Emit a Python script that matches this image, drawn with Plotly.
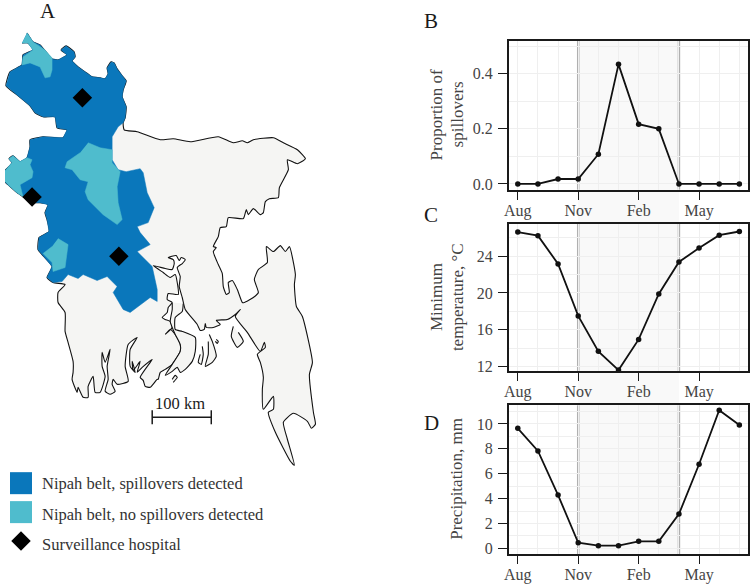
import plotly.graph_objects as go

FONT = "Liberation Serif"
BLUE = "#0a77bb"
CYAN = "#4fbccd"
LAND = "#f5f5f3"
INK = "#1a1a1a"
TICK_INK = "#444444"
GRID = "#efefef"
SHADE = "#f9f9f9"
SEASON_LINE = "#b0b0b0"

# monthly series, Aug to Jul
MONTHS = list(range(12))
TICK_MONTHS = [0, 3, 6, 9]
TICK_NAMES = ["Aug", "Nov", "Feb", "May"]
SEASON_START, SEASON_END = 3, 8
SPILLOVERS = [0, 0, 0.018, 0.018, 0.108, 0.434, 0.217, 0.2, 0, 0, 0, 0]
MIN_TEMP = [26.64, 26.25, 23.17, 17.5, 13.64, 11.6, 14.94, 19.9, 23.38, 24.9, 26.3, 26.7]
PRECIP = [9.65, 7.83, 4.28, 0.45, 0.21, 0.21, 0.56, 0.56, 2.75, 6.76, 11.1, 9.92]

# map outlines in page pixels
NORTH_EDGE = [(27, 33), (33, 42), (40, 45), (46, 52), (52, 59), (58, 60), (64, 57), (67, 55), (61, 50),
              (66, 46), (74, 52), (75, 57), (72, 61), (78, 67), (85, 72), (92, 77), (100, 78), (105, 79),
              (108, 74), (107, 68), (111, 62), (114, 63), (117, 69), (122, 76), (126, 81), (123, 90),
              (122, 97), (126, 107), (125, 118), (123, 123)]
WEST_EDGE = [(53, 283), (47, 278), (52, 267), (42, 255), (38, 250), (39, 238), (49, 232), (47, 220), (45, 213),
             (48, 205), (40, 203), (33, 203), (23, 197), (17, 193), (8, 185), (0, 177), (12, 163), (9, 159),
             (13, 156), (20, 162), (27, 158), (30, 147), (30, 140), (43, 137), (63, 138), (67, 130), (57, 128),
             (55, 117), (43, 117), (35, 113), (30, 106), (17, 95), (6, 86), (10, 72), (22, 65), (23, 55),
             (33, 50), (28, 43), (22, 43)]
BELT_INNER = [(118, 127), (112, 137), (112, 160), (118, 170), (126, 172), (140, 169), (143, 173), (147, 193),
              (154, 208), (148, 223), (137, 227), (140, 233), (150, 245), (137, 252), (147, 262), (152, 267),
              (157, 290), (157, 302), (150, 298), (138, 307), (130, 313), (123, 310), (113, 293), (117, 287),
              (107, 277), (97, 281), (83, 275), (78, 279), (68, 275), (62, 282)]
EAST_COAST = [(124, 130), (137, 132), (160, 140), (173, 139), (190, 142), (218, 137), (233, 143), (242, 141),
              (247, 143), (253, 140), (273, 138), (283, 143), (297, 150), (305, 159), (297, 164), (287, 160),
              (288, 170), (279, 188), (278, 198), (269, 199), (265, 202), (263, 213), (260, 215), (253, 209),
              (248, 215), (246, 210), (243, 219), (228, 218), (226, 227), (220, 228), (218, 237), (213, 247),
              (216, 248), (213, 252), (218, 265), (222, 274), (223, 287), (226, 295), (229, 293), (228, 283),
              (232, 281), (237, 290), (242, 303), (244, 303), (253, 298), (258, 293), (254, 280), (258, 270),
              (267, 263), (266, 247), (273, 252), (280, 246), (285, 252), (289, 247), (295, 275), (294, 285),
              (296, 307), (302, 317), (312, 363), (309, 375), (313, 413), (315, 425), (311, 429), (307, 422),
              (293, 414), (283, 423), (287, 440), (294, 466), (290, 462), (275, 433), (268, 413), (273, 410),
              (273, 397), (263, 410), (262, 390), (263, 378), (260, 363), (257, 355), (265, 348), (264, 343),
              (260, 352), (247, 333), (235, 317), (240, 310), (235, 315), (227, 320), (216, 321), (220, 325),
              (213, 328), (206, 328), (205, 324), (204, 330), (200, 331), (197, 325), (185, 310), (182, 298),
              (179, 287), (180, 277), (177, 268), (182, 264), (185, 260), (181, 258), (179, 261), (176, 256),
              (168, 258), (173, 260), (174, 264), (172, 270), (165, 269), (153, 266), (163, 273), (170, 278),
              (175, 275), (177, 283), (178, 295), (168, 294), (167, 300), (172, 303), (168, 308), (167, 313),
              (162, 318), (165, 320), (170, 322), (172, 328), (165, 335), (170, 330), (175, 335), (180, 345),
              (180, 352), (172, 365), (165, 370), (160, 373), (158, 380), (157, 380), (150, 388), (145, 387),
              (143, 381), (140, 378), (152, 360), (142, 368), (137, 373), (140, 362), (133, 371), (132, 362),
              (135, 373), (130, 367), (130, 350), (137, 338), (128, 345), (125, 367), (128, 382), (117, 385),
              (113, 380), (112, 385), (115, 392), (110, 395), (105, 392), (108, 380), (107, 367), (110, 350),
              (105, 363), (102, 353), (102, 367), (105, 377), (100, 393), (95, 393), (93, 377), (88, 387),
              (88, 398), (83, 398), (78, 388), (77, 393), (72, 380), (73, 373), (73, 362), (68, 343), (65, 332),
              (65, 313), (58, 303), (58, 293), (65, 285)]
ISLANDS = [
    [(183, 304), (182, 312), (175, 318), (175, 330), (182, 332), (195, 338), (195, 352), (192, 362), (185, 370),
     (180, 373), (177, 368), (172, 372), (165, 376), (172, 365), (180, 352), (180, 345), (175, 335), (172, 328),
     (170, 322), (172, 310), (172, 303)],
    [(172, 380), (175, 376), (177, 378), (173, 383)],
    [(209, 335), (212, 342), (216, 357), (212, 363), (205, 367), (208, 355), (208, 342)],
    [(216, 340), (218, 342), (217, 344), (215, 342)],
    [(202, 347), (203, 355), (201, 365), (198, 363), (200, 355)],
    [(233, 327), (231, 337), (237, 348), (243, 342), (238, 333)],
]
CYAN_PATCHES = [
    [(27, 33), (33, 42), (45, 50), (52, 58), (52, 70), (50, 77), (45, 78), (40, 67), (30, 63), (22, 65), (23, 57),
     (33, 50), (28, 43), (22, 43)],
    [(88, 143), (100, 148), (112, 150), (112, 163), (120, 172), (117, 187), (118, 203), (122, 220), (117, 225),
     (103, 215), (88, 200), (85, 192), (88, 182), (80, 180), (72, 170), (65, 168), (67, 162), (80, 153)],
    [(0, 177), (12, 163), (9, 159), (13, 156), (20, 162), (27, 158), (32, 160), (30, 165), (33, 172), (32, 178),
     (20, 185), (23, 197), (17, 193), (8, 185)],
    [(58, 239), (68, 245), (65, 268), (53, 272), (52, 263), (43, 254), (52, 247)],
]
HOSPITAL_X = [82.3, 32, 118.7]
HOSPITAL_Y = [98, 197.3, 256.7]
SCALE_X = [152, 211]
SCALE_Y = [418, 418]

LEGEND_LABELS = ["Nipah belt, spillovers detected", "Nipah belt, no spillovers detected", "Surveillance hospital"]
LEGEND_Y = [484, 515, 545]

# pixel boxes of the three line panels (left, right, top, bottom)
PANEL_LEFT, PANEL_RIGHT = 508, 749
PANELS = [
    dict(name="2", y=SPILLOVERS, top=41, bottom=190, rng=[-0.0207, 0.519], dtick=0.2, tick0=0, fmt=".1f", minor=0.1),
    dict(name="3", y=MIN_TEMP, top=224, bottom=372, rng=[11.46, 27.56], dtick=4, tick0=12, fmt="d", minor=2),
    dict(name="4", y=PRECIP, top=406, bottom=555, rng=[-0.46, 11.5], dtick=2, tick0=0, fmt="d", minor=1),
]
W, H = 750, 586
PAGE_H = 583  # height that lines the panels up with the map coordinates


def poly(points, fill, line=None, width=1.1):
    xs = [p[0] for p in points]
    ys = [p[1] for p in points]
    return go.Scatter(x=xs, y=ys, mode="lines", fill="toself", fillcolor=fill,
                      line=dict(color=line or fill, width=width if line else 0.5,
                                shape="spline" if line else "linear", smoothing=0.5),
                      hoverinfo="skip", xaxis="x", yaxis="y")


def text(x, y, s, size=15, color=INK, anchor="center", angle=0):
    return dict(x=x, y=y, xref="x", yref="y", text=s, showarrow=False, xanchor=anchor, yanchor="middle",
                textangle=angle, font=dict(family=FONT, size=size, color=color))


fig = go.Figure()
fig.add_trace(poly(NORTH_EDGE + EAST_COAST + WEST_EDGE, LAND, "#111111"))
for island in ISLANDS:
    fig.add_trace(poly(island, LAND, "#111111"))
fig.add_trace(poly(NORTH_EDGE + BELT_INNER + WEST_EDGE, BLUE))
for patch in CYAN_PATCHES:
    fig.add_trace(poly(patch, CYAN))
fig.add_trace(go.Scatter(x=HOSPITAL_X, y=HOSPITAL_Y, mode="markers", xaxis="x", yaxis="y",
                         marker=dict(symbol="diamond", size=15, color="black"), hoverinfo="skip"))
fig.add_trace(go.Scatter(x=SCALE_X, y=SCALE_Y, mode="lines+markers", xaxis="x", yaxis="y",
                         line=dict(color=INK, width=1.5),
                         marker=dict(symbol="line-ns", size=10, line=dict(color=INK, width=1.5)), hoverinfo="skip"))

# legend keys
fig.add_trace(go.Scatter(x=[21], y=[484], mode="markers", xaxis="x", yaxis="y", hoverinfo="skip",
                         marker=dict(symbol="square", size=22, color=BLUE)))
fig.add_trace(go.Scatter(x=[21], y=[513], mode="markers", xaxis="x", yaxis="y", hoverinfo="skip",
                         marker=dict(symbol="square", size=22, color=CYAN)))
fig.add_trace(go.Scatter(x=[21], y=[542], mode="markers", xaxis="x", yaxis="y", hoverinfo="skip",
                         marker=dict(symbol="diamond", size=15, color="black")))

layout = dict(
    width=W, height=H, showlegend=False, paper_bgcolor="white", plot_bgcolor="rgba(0,0,0,0)",
    margin=dict(l=0, r=0, t=0, b=0), hovermode=False,
    xaxis=dict(domain=[0, 1], range=[5, 748], visible=False, fixedrange=True),
    yaxis=dict(domain=[0, 1], range=[PAGE_H, 0], visible=False, fixedrange=True),
)

shapes = [dict(type="rect", xref="x2", x0=SEASON_START, x1=SEASON_END, yref="paper",
               y0=1 - 555 / PAGE_H, y1=1 - 41 / PAGE_H, fillcolor=SHADE, line_width=0, layer="below")]

for panel in PANELS:
    n = panel["name"]
    fig.add_trace(go.Scatter(x=MONTHS, y=panel["y"], mode="lines+markers", xaxis="x" + n, yaxis="y" + n,
                             line=dict(color="#111111", width=1.8), marker=dict(size=5.5, color="#111111"),
                             cliponaxis=False))
    layout["xaxis" + n] = dict(
        domain=[PANEL_LEFT / W, PANEL_RIGHT / W], range=[-0.44, 11.43], anchor="y" + n,
        tickmode="array", tickvals=TICK_MONTHS, ticktext=TICK_NAMES, ticks="outside", ticklen=8,
        tickwidth=1, tickcolor=INK, showline=True, mirror=True, linecolor=INK, linewidth=1.8,
        showgrid=True, gridcolor=GRID, gridwidth=1, zeroline=False, fixedrange=True, ticklabelstandoff=-3,
        minor=dict(tickmode="array", tickvals=MONTHS, showgrid=True, gridcolor=GRID, gridwidth=1, ticks=""),
        tickfont=dict(family=FONT, size=16, color=TICK_INK),
    )
    layout["yaxis" + n] = dict(
        domain=[1 - panel["bottom"] / PAGE_H, 1 - panel["top"] / PAGE_H], range=panel["rng"], anchor="x" + n,
        tick0=panel["tick0"], dtick=panel["dtick"], tickformat=panel["fmt"], ticks="outside", ticklen=9,
        tickwidth=1, tickcolor=INK, showline=True, mirror=True, linecolor=INK, linewidth=1.8,
        showgrid=True, gridcolor=GRID, gridwidth=1, zeroline=False, fixedrange=True, ticklabelstandoff=2,
        minor=dict(dtick=panel["minor"], showgrid=True, gridcolor=GRID, gridwidth=1, ticks=""),
        tickfont=dict(family=FONT, size=16, color=TICK_INK),
    )
    for month in (SEASON_START, SEASON_END):
        shapes.append(dict(type="line", xref="x" + n, x0=month, x1=month, yref="y" + n + " domain", y0=0, y1=1,
                           line=dict(color=SEASON_LINE, width=2.5), layer="below"))

annotations = [
    text(48, 11, "A", 21), text(430, 21, "B", 21), text(430, 215, "C", 21), text(431, 424, "D", 21),
    text(180, 404, "100 km", 16.5),
    text(436, 115, "Proportion of", 17, TICK_INK, angle=-90), text(457, 115, "spillovers", 17, TICK_INK, angle=-90),
    text(436, 298, "Minimum", 17, TICK_INK, angle=-90), text(457, 298, "temperature, °C", 17, TICK_INK, angle=-90),
    text(456, 480, "Precipitation, mm", 17, TICK_INK, angle=-90),
]
for label, y in zip(LEGEND_LABELS, LEGEND_Y):
    annotations.append(text(40, y, label, 16.5, "#333333", anchor="left"))

fig.update_layout(shapes=shapes, annotations=annotations, **layout)
fig.write_html("out.html", config=dict(displayModeBar=False),
               post_script="document.body.style.margin='0';")
